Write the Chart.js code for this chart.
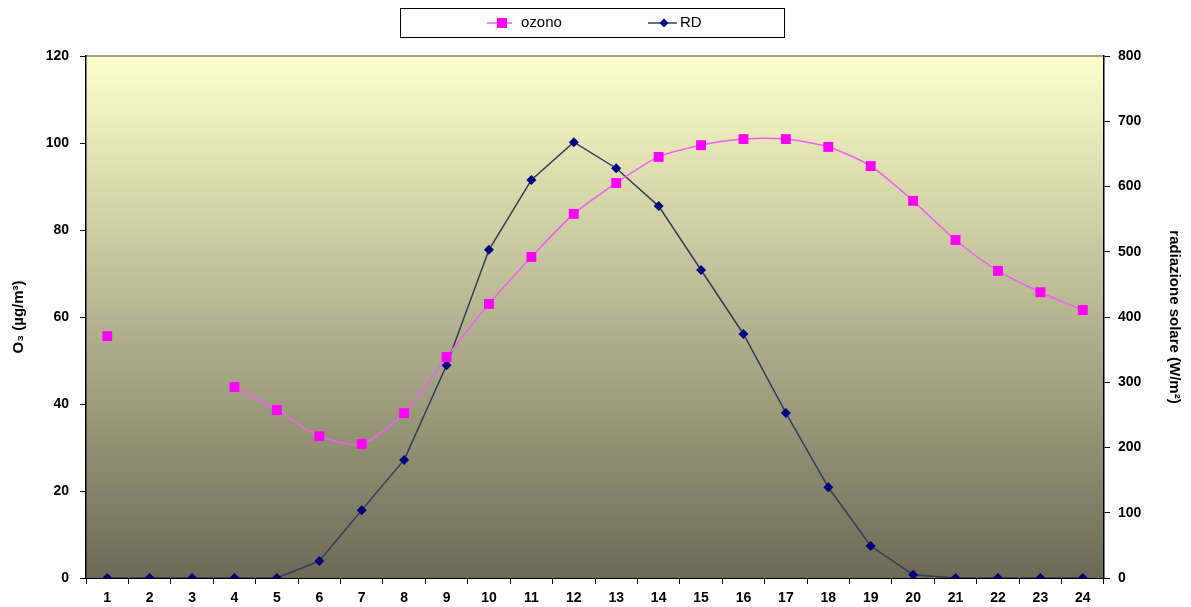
<!DOCTYPE html>
<html>
<head>
<meta charset="utf-8">
<script src="https://cdn.jsdelivr.net/npm/chart.js@4.4.1/dist/chart.umd.min.js"></script>
<style>
  html, body { margin: 0; background: #fff; }
  #wrap { width: 1191px; height: 607px; }
</style>
</head>
<body>
<div id="wrap"><canvas id="chart"></canvas></div>
<script>
// ore del giorno
const hours = ['1','2','3','4','5','6','7','8','9','10','11','12','13','14','15','16','17','18','19','20','21','22','23','24'];
// ozono (µg/m3), ore 2 e 3 mancanti
const ozono = [55.6, null, null, 43.9, 38.6, 32.6, 30.8, 37.9, 50.8, 63.0, 73.8, 83.7, 90.8, 96.8, 99.5, 100.9, 100.9, 99.1, 94.7, 86.7, 77.7, 70.6, 65.7, 61.6];
// radiazione solare (W/m2)
const rd = [0, 0, 0, 0, 0, 26, 104, 181, 326, 503, 610, 668, 628, 570, 472, 374, 253, 139, 49, 5, 0, 0, 0, 0];
const o3Ticks = [0, 20, 40, 60, 80, 100, 120];
const rdTicks = [0, 100, 200, 300, 400, 500, 600, 700, 800];

const fontFam = 'Liberation Sans, Arial, sans-serif';
const tickFont = { family: fontFam, size: 14, weight: 'bold' };
const titleFont = { family: fontFam, size: 15, weight: 'bold' };

// sfondo sfumato dell'area del grafico + bordo superiore
const plotBg = {
  id: 'plotBg',
  beforeDraw(chart) {
    const { ctx, chartArea: a } = chart;
    const g = ctx.createLinearGradient(0, a.top, 0, a.bottom);
    g.addColorStop(0, '#FFFFCC');
    g.addColorStop(1, '#6C6A55');
    ctx.save();
    ctx.fillStyle = g;
    ctx.fillRect(a.left, a.top, a.right - a.left, a.bottom - a.top);
    ctx.strokeStyle = '#A89F88';
    ctx.lineWidth = 2;
    ctx.beginPath();
    ctx.moveTo(a.left, a.top);
    ctx.lineTo(a.right, a.top);
    ctx.stroke();
    ctx.restore();
  }
};

// legenda con riquadro, linea + marcatore
const boxLegend = {
  id: 'boxLegend',
  afterDraw(chart) {
    const { ctx, chartArea: a } = chart;
    const cx = (a.left + a.right) / 2 - 3;
    ctx.save();
    ctx.strokeStyle = '#000';
    ctx.lineWidth = 1;
    ctx.strokeRect(cx - 192 + 0.5, 8.5, 384, 29);
    const items = [
      { ds: 0, x: cx - 105, len: 25, mark: 15, text: 34 },
      { ds: 1, x: cx + 56, len: 29, mark: 16, text: 32 }
    ];
    ctx.font = '15px ' + fontFam;
    ctx.textBaseline = 'middle';
    const y = 23;
    items.forEach(it => {
      const ds = chart.data.datasets[it.ds];
      ctx.strokeStyle = ds.borderColor;
      ctx.lineWidth = 1.5;
      ctx.beginPath();
      ctx.moveTo(it.x, y);
      ctx.lineTo(it.x + it.len, y);
      ctx.stroke();
      const mx = it.x + it.mark;
      ctx.fillStyle = ds.pointBackgroundColor;
      ctx.beginPath();
      if (ds.pointStyle === 'rect') {
        ctx.rect(mx - 5, y - 5, 10, 10);
      } else {
        ctx.moveTo(mx, y - 4.5);
        ctx.lineTo(mx + 4.5, y);
        ctx.lineTo(mx, y + 4.5);
        ctx.lineTo(mx - 4.5, y);
        ctx.closePath();
      }
      ctx.fill();
      ctx.fillStyle = '#000';
      ctx.textAlign = 'left';
      ctx.fillText(ds.label, it.x + it.text, y);
    });
    ctx.restore();
  }
};

const ctx = document.getElementById('chart').getContext('2d');
const chart = new Chart(ctx, {
  type: 'line',
  data: {
    labels: hours,
    datasets: [
      {
        label: 'ozono',
        data: ozono,
        yAxisID: 'y',
        borderColor: '#F060F0',
        borderWidth: 1.5,
        pointStyle: 'rect',
        pointRadius: 7,
        pointBackgroundColor: '#FF00FF',
        pointBorderWidth: 0,
        tension: 0.25,
        spanGaps: false
      },
      {
        label: 'RD',
        data: rd,
        yAxisID: 'y1',
        borderColor: '#3A3A5A',
        borderWidth: 1.5,
        pointStyle: 'rectRot',
        pointRadius: 5,
        pointBackgroundColor: '#000080',
        pointBorderWidth: 0,
        tension: 0
      }
    ]
  },
  options: {
    responsive: true,
    maintainAspectRatio: false,
    animation: false,
    layout: { padding: { top: 56, left: 0, right: 0, bottom: 0 } },
    plugins: {
      legend: { display: false },
      tooltip: { enabled: false }
    },
    scales: {
      x: {
        offset: true,
        grid: { offset: true, drawOnChartArea: false, tickLength: 6, color: '#000' },
        border: { color: '#000', width: 1 },
        ticks: { font: tickFont, color: '#000', padding: 6, maxRotation: 0, autoSkip: false },
        afterFit: s => { s.height = 29; }
      },
      y: {
        position: 'left',
        min: 0, max: 120,
        afterBuildTicks: s => { s.ticks = o3Ticks.map(v => ({ value: v })); },
        grid: { drawOnChartArea: false, tickLength: 6, color: '#000' },
        border: { color: '#000', width: 1.5 },
        ticks: { font: tickFont, color: '#000', padding: 11 },
        title: {
          display: true,
          text: 'O₃ (µg/m³)',
          color: '#000',
          font: titleFont,
          padding: { top: 10, bottom: 0 }
        },
        afterFit: s => { s.width = 86; }
      },
      y1: {
        position: 'right',
        min: 0, max: 800,
        afterBuildTicks: s => { s.ticks = rdTicks.map(v => ({ value: v })); },
        grid: { drawOnChartArea: false, tickLength: 6, color: '#000' },
        border: { color: '#000', width: 1.5 },
        ticks: { font: tickFont, color: '#000', padding: 8 },
        title: {
          display: true,
          text: 'radiazione solare (W/m²)',
          color: '#000',
          font: titleFont,
          padding: { top: 8, bottom: 0 }
        },
        afterFit: s => { s.width = 87; }
      }
    }
  },
  plugins: [plotBg, boxLegend]
});
</script>
</body>
</html>
